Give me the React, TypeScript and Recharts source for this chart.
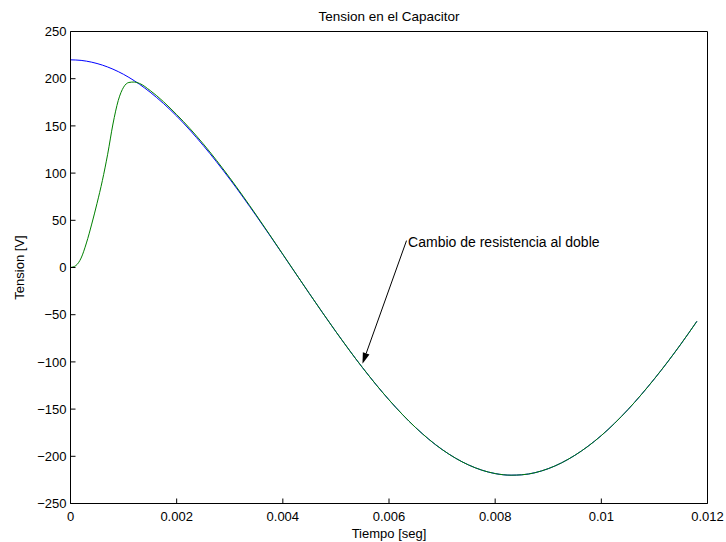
import { LineChart, Line, XAxis, YAxis, ReferenceLine, ReferenceDot } from "recharts";

// tiempo [seg]
const times = [
  0, 0.0001, 0.0002, 0.0003, 0.0004, 0.0005, 0.0006, 0.0007, 0.0008, 0.0009,
  0.001, 0.0011, 0.0012, 0.0013, 0.0015, 0.002, 0.0025, 0.003, 0.0035, 0.004,
  0.0045, 0.005, 0.0055, 0.006, 0.0065, 0.007, 0.0075, 0.008, 0.0083, 0.0085,
  0.009, 0.0095, 0.01, 0.0105, 0.011, 0.0115, 0.0118,
];

// tension sin cambio (azul)
const tensionBlue = [
  220, 219.8, 219.4, 218.6, 217.5, 216.1, 214.4, 212.4, 210.1, 207.5,
  204.6, 201.4, 197.9, 194.1, 185.7, 160.4, 129.3, 93.7, 54.7, 13.8,
  -27.6, -68, -106, -140.2, -169.5, -192.8, -209.2, -218.3, -220, -219.6,
  -213.1, -199, -178, -150.6, -117.9, -81, -57,
];

// tension con cambio de resistencia (verde)
const tensionGreen = [
  0, 2, 10, 26, 46, 68, 92, 120, 152, 177,
  191, 196, 196.5, 195, 187.5, 162, 131, 95, 55.5, 14,
  -27.6, -68, -106, -140.2, -169.5, -192.8, -209.2, -218.3, -220, -219.6,
  -213.1, -199, -178, -150.6, -117.9, -81, -57,
];

const xTicks = [0, 0.002, 0.004, 0.006, 0.008, 0.01, 0.012];
const xTickLabels = ["0", "0.002", "0.004", "0.006", "0.008", "0.01", "0.012"];
const yTicks = [-250, -200, -150, -100, -50, 0, 50, 100, 150, 200, 250];
const yTickLabels = [
  "\u2212250", "\u2212200", "\u2212150", "\u2212100", "\u221250",
  "0", "50", "100", "150", "200", "250",
];

// anotacion: punta de flecha, cola y texto
const arrowTip = { x: 0.0055, y: -102 };
const arrowTail = { x: 0.00633, y: 28.5 };
const noteAnchor = { x: 0.00636, y: 26.5 };
const noteText = "Cambio de resistencia al doble";

const data = times.map((t, i) => ({
  t,
  blue: tensionBlue[i],
  green: tensionGreen[i],
}));

const FONT = "'Liberation Sans', Arial, Helvetica, sans-serif";
const tickStyle = { fill: "#000", fontSize: 13, fontFamily: FONT };
const axisStroke = { stroke: "#000", strokeWidth: 1 };

const Arrow = (props: any) => {
  const { x1, y1, x2, y2 } = props;
  // x1,y1 = tip ; x2,y2 = tail
  const ang = Math.atan2(y1 - y2, x1 - x2);
  const len = 11;
  const w = 3.5;
  const bx = x1 - len * Math.cos(ang);
  const by = y1 - len * Math.sin(ang);
  const px = -Math.sin(ang) * w;
  const py = Math.cos(ang) * w;
  return (
    <g>
      <line x1={x2} y1={y2} x2={bx} y2={by} stroke="#000" strokeWidth={1} />
      <polygon
        points={`${x1},${y1} ${bx + px},${by + py} ${bx - px},${by - py}`}
        fill="#000"
      />
    </g>
  );
};

const NoteLabel = (props: any) => {
  const { cx, cy } = props;
  return (
    <text
      x={cx}
      y={cy}
      dominantBaseline="central"
      fontSize={14}
      fontFamily={FONT}
      fill="#000"
    >
      {noteText}
    </text>
  );
};

export default function App() {
  return (
    <div style={{ position: "absolute", left: 0, top: 0, background: "#fff" }}>
      <LineChart
        width={726}
        height={542}
        data={data}
        margin={{ top: 30.5, right: 17.5, bottom: 0, left: 0 }}
        style={{ fontFamily: FONT }}
      >
        <XAxis
          dataKey="t"
          type="number"
          domain={[0, 0.012]}
          ticks={xTicks}
          tickFormatter={(v: number) => xTickLabels[xTicks.indexOf(v)] ?? String(v)}
          height={38.5}
          tickSize={-5}
          tickMargin={13}
          tick={tickStyle}
          interval={0}
          axisLine={axisStroke}
          tickLine={axisStroke}
          label={{
            value: "Tiempo [seg]",
            position: "insideBottom",
            offset: 4,
            style: { fill: "#000", fontSize: 13, fontFamily: FONT },
          }}
        />
        <XAxis
          xAxisId="top"
          dataKey="t"
          type="number"
          orientation="top"
          domain={[0, 0.012]}
          ticks={xTicks}
          height={1}
          tickSize={-5}
          tick={false}
          interval={0}
          axisLine={axisStroke}
          tickLine={axisStroke}
          label={{
            value: "Tension en el Capacitor",
            position: "top",
            offset: 10,
            style: { fill: "#000", fontSize: 13.5, fontFamily: FONT },
          }}
        />
        <YAxis
          type="number"
          domain={[-250, 250]}
          ticks={yTicks}
          tickFormatter={(v: number) => yTickLabels[yTicks.indexOf(v)] ?? String(v)}
          width={70.5}
          tickSize={-5}
          tickMargin={9}
          tick={tickStyle}
          interval={0}
          axisLine={axisStroke}
          tickLine={axisStroke}
          label={{
            value: "Tension [V]",
            angle: -90,
            position: "insideLeft",
            offset: 19,
            style: { fill: "#000", fontSize: 13, fontFamily: FONT, textAnchor: "middle" },
          }}
        />
        <YAxis
          yAxisId="right"
          orientation="right"
          type="number"
          domain={[-250, 250]}
          ticks={yTicks}
          width={1}
          tickSize={-5}
          tick={false}
          interval={0}
          axisLine={axisStroke}
          tickLine={axisStroke}
        />
        <Line
          dataKey="blue"
          type="monotone"
          stroke="#0000ff"
          strokeWidth={1}
          dot={false}
          isAnimationActive={false}
        />
        <Line
          dataKey="green"
          type="monotone"
          stroke="#008000"
          strokeWidth={1}
          dot={false}
          isAnimationActive={false}
        />
        <ReferenceLine
          segment={[arrowTip, arrowTail]}
          shape={<Arrow />}
          ifOverflow="visible"
        />
        <ReferenceDot
          x={noteAnchor.x}
          y={noteAnchor.y}
          r={0}
          shape={<NoteLabel />}
          ifOverflow="visible"
        />
      </LineChart>
    </div>
  );
}
